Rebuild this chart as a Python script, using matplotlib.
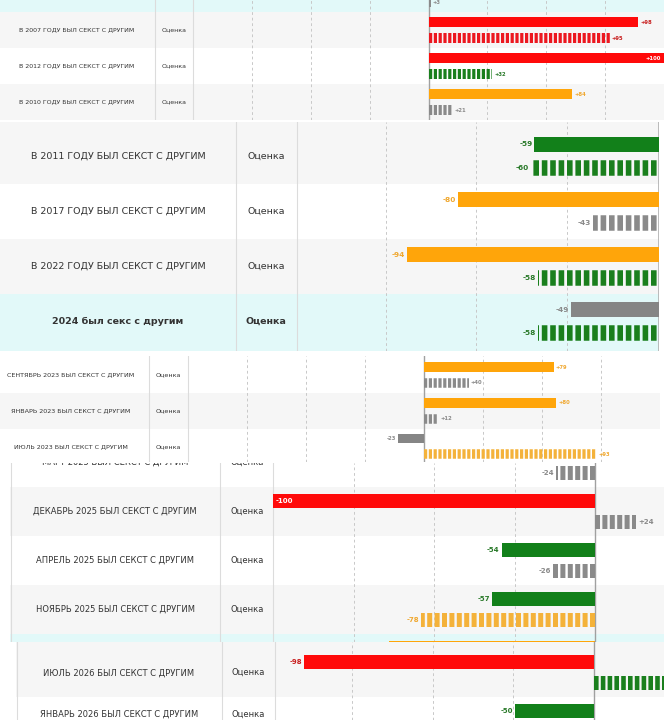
import numpy as np
import matplotlib.pyplot as plt

plt.rcParams['font.family'] = ['DejaVu Sans']
plt.rcParams['lines.scale_dashes'] = False

W, H = 664, 720
PT = 0.72  # points per pixel at dpi 100

RED, GREEN, ORANGE, GRAY = '#ff0a0a', '#12801a', '#ffa50a', '#858585'
DASH_COLORS = {RED: '#ec1820', GREEN: '#1a7f1d', ORANGE: '#f4b23a', GRAY: '#8a8a8a'}
TEXT_COLORS = {RED: '#c82020', GREEN: '#2a7a2a', ORANGE: '#f0a830', GRAY: '#8a8a8a'}

# --- data, one small set of lists per screenshot piece ---
# piece 1 (top)
a_rows = ['', 'В 2007 ГОДУ БЫЛ СЕКСТ С ДРУГИМ', 'В 2012 ГОДУ БЫЛ СЕКСТ С ДРУГИМ',
          'В 2010 ГОДУ БЫЛ СЕКСТ С ДРУГИМ']
a_solid = [np.nan, 89, 100, 61]
a_solid_col = [GRAY, RED, RED, ORANGE]
a_solid_txt = ['', '+98', '+100', '+84']
a_dash = [1, 77, 27, 10]
a_dash_col = [GRAY, RED, GREEN, GRAY]
a_dash_txt = ['+3', '+95', '+32', '+21']

# piece 2
b_rows = ['В 2011 ГОДУ БЫЛ СЕКСТ С ДРУГИМ', 'В 2017 ГОДУ БЫЛ СЕКСТ С ДРУГИМ',
          'В 2022 ГОДУ БЫЛ СЕКСТ С ДРУГИМ', '2024 был секс с другим']
b_solid = [-59, -80, -94, -49]
b_solid_col = [GREEN, ORANGE, ORANGE, GRAY]
b_solid_txt = ['-59', '-80', '-94', '-49']
b_dash = [-60, -43, -58, -58]
b_dash_col = [GREEN, GRAY, GREEN, GREEN]
b_dash_txt = ['-60', '-43', '-58', '-58']

# piece 3
c_rows = ['СЕНТЯБРЬ 2023 БЫЛ СЕКСТ С ДРУГИМ', 'ЯНВАРЬ 2023 БЫЛ СЕКСТ С ДРУГИМ',
          'ИЮЛЬ 2023 БЫЛ СЕКСТ С ДРУГИМ']
c_solid = [55, 56, -11]
c_solid_col = [ORANGE, ORANGE, GRAY]
c_solid_txt = ['+79', '+80', '-23']
c_dash = [19, 6, 73]
c_dash_col = [GRAY, GRAY, ORANGE]
c_dash_txt = ['+40', '+12', '+93']

# piece 4
d_rows = ['МАРТ 2025 БЫЛ СЕКСТ С ДРУГИМ', 'ДЕКАБРЬ 2025 БЫЛ СЕКСТ С ДРУГИМ',
          'АПРЕЛЬ 2025 БЫЛ СЕКСТ С ДРУГИМ', 'НОЯБРЬ 2025 БЫЛ СЕКСТ С ДРУГИМ', '']
d_solid = [np.nan, -100, -29, -32, -64]
d_solid_col = [GRAY, RED, GREEN, GREEN, ORANGE]
d_solid_txt = ['', '-100', '-54', '-57', '']
d_dash = [-12, 12.7, -13, -54, np.nan]
d_dash_col = [GRAY, GRAY, GRAY, ORANGE, GRAY]
d_dash_txt = ['-24', '+24', '-26', '-78', '']

# piece 5 (bottom)
e_rows = ['ИЮЛЬ 2026 БЫЛ СЕКСТ С ДРУГИМ', 'ЯНВАРЬ 2026 БЫЛ СЕКСТ С ДРУГИМ']
e_solid = [-90, -24.5]
e_solid_col = [RED, GREEN]
e_solid_txt = ['-98', '-50']
e_dash = [25, np.nan]
e_dash_col = [GREEN, GREEN]
e_dash_txt = ['', '']

# --- layout of each piece, in pixels of the final picture ---
CYAN, GREY_ROW, WHITE = '#e2f9f9', '#f6f6f6', '#ffffff'
layouts = [
    dict(box=(0, 0, 664, 120), c0=-6, h=36, off=8, bh=10, cols=(155, 193), tx=(77, 174),
         xlim=(-100, 100), grid=[-75, -50, -25, 25, 50, 75], fs=4.5, vfs=3.8,
         dash=(3.2, 1.6), bg=[CYAN, GREY_ROW, WHITE, GREY_ROW], bold=[], edge=False),
    dict(box=(0, 122, 659, 351), c0=156, h=55, off=11.5, bh=15.5, cols=(236, 297), tx=(118, 266),
         xlim=(-124.4, -24.7), grid=[-100, -75, -50], fs=6.8, vfs=5.3,
         dash=(5.6, 2.8), bg=[GREY_ROW, WHITE, GREY_ROW, CYAN], bold=[3], edge=True),
    dict(box=(0, 356, 660, 462), c0=375, h=35.75, off=7.8, bh=9.5, cols=(149, 188), tx=(71, 168),
         xlim=(-100, 100), grid=[-75, -50, -25, 25, 50, 75], fs=4.6, vfs=3.8,
         dash=(3.2, 1.6), bg=[WHITE, GREY_ROW, WHITE], bold=[], edge=False),
    dict(box=(10, 463, 664, 642), c0=462.5, h=49, off=10.5, bh=14, cols=(220, 273), tx=(115, 247),
         xlim=(-100, 21.4), grid=[-75, -50, -25], fs=6.0, vfs=5.0,
         dash=(5.0, 2.4), bg=[WHITE, GREY_ROW, WHITE, GREY_ROW, CYAN], bold=[], edge=False),
    dict(box=(16, 642, 664, 720), c0=672.75, h=48.5, off=10.7, bh=14, cols=(222, 275), tx=(119, 248),
         xlim=(-99, 21.7), grid=[-75, -50, -25], fs=6.0, vfs=5.0,
         dash=(4.6, 2.2), bg=[GREY_ROW, WHITE], bold=[], edge=False),
]

fig = plt.figure(figsize=(W / 100, H / 100), dpi=100)
fig.patch.set_facecolor('white')


def value_label(ax, v, y, t, col, L):
    if not t:
        return
    lo, hi = L['xlim']
    kw = dict(va='center', fontsize=L['vfs'], weight='bold', clip_on=True)
    if v >= hi:
        ax.annotate(t, (hi, y), xytext=(-2, 0), textcoords='offset points', ha='right',
                    color='white', **kw)
    elif v <= lo:
        ax.annotate(t, (lo, y), xytext=(2, 0), textcoords='offset points', ha='left',
                    color='white', **kw)
    elif v >= 0:
        ax.annotate(t, (v, y), xytext=(1.5, 0), textcoords='offset points', ha='left',
                    color=TEXT_COLORS[col], **kw)
    else:
        ax.annotate(t, (v, y), xytext=(-1.5, 0), textcoords='offset points', ha='right',
                    color=TEXT_COLORS[col], **kw)


def draw_piece(L, rows, sv, sc, st, dv, dc, dt):
    x0, y0, x1, y1 = L['box']
    # table part: row bands, column lines and row texts
    ax = fig.add_axes([x0 / W, 1 - y1 / H, (x1 - x0) / W, (y1 - y0) / H])
    ax.set_xlim(x0, x1)
    ax.set_ylim(y1, y0)
    ax.axis('off')
    centers = [L['c0'] + i * L['h'] for i in range(len(rows))]
    n = len(rows)
    for i, (c, bg) in enumerate(zip(centers, L['bg'])):
        top = c - L['h'] / 2 if i > 0 else min(c - L['h'] / 2, y0)
        bot = c + L['h'] / 2 if i < n - 1 else max(c + L['h'] / 2, y1)
        ax.axhspan(top, bot, color=bg, lw=0, zorder=0)
    for cx in L['cols']:
        ax.axvline(cx, color='#dcdcdc', lw=0.8)
    if x0 > 0:
        ax.axvline(x0 + 0.5, color='#dcdcdc', lw=0.8)
    for i, (c, name) in enumerate(zip(centers, rows)):
        if not name:
            continue
        w = 'bold' if i in L['bold'] else 'normal'
        ty = min(c, H - 6)  # keep the last row's text inside the picture
        ax.text(L['tx'][0], ty, name, ha='center', va='center', fontsize=L['fs'],
                color='#333333', weight=w, clip_on=True)
        ax.text(L['tx'][1], ty, 'Оценка', ha='center', va='center', fontsize=L['fs'],
                color='#333333', weight=w, clip_on=True)

    # chart part
    cx0 = L['cols'][1]
    axc = fig.add_axes([cx0 / W, 1 - y1 / H, (x1 - cx0) / W, (y1 - y0) / H])
    axc.set_xlim(L['xlim'])
    axc.set_ylim(y1, y0)
    axc.axis('off')
    axc.patch.set_alpha(0)
    for g in L['grid']:
        axc.axvline(g, color='#c8c8c8', lw=0.7, ls=(0, (2, 2)))
    axc.axvline(0, color='#a0a0a0', lw=1.0)
    if L['edge']:
        axc.axvline(L['xlim'][1], color='#b0b0b0', lw=1.2)

    for c, v, col, t in zip(centers, sv, sc, st):
        if np.isnan(v):
            continue
        y = c - L['off']
        axc.barh(y, v, height=L['bh'], color=col, lw=0, zorder=3)
        value_label(axc, v, y, t, col, L)
    on, off = L['dash']
    for c, v, col, t in zip(centers, dv, dc, dt):
        if np.isnan(v):
            continue
        y = c + L['off']
        axc.hlines(y, 0, v, colors=DASH_COLORS[col], lw=L['bh'] * PT,
                   linestyles=[(0, (on * PT, off * PT))], capstyle='butt', zorder=3)
        value_label(axc, v, y, t, col, L)


draw_piece(layouts[0], a_rows, a_solid, a_solid_col, a_solid_txt, a_dash, a_dash_col, a_dash_txt)
draw_piece(layouts[1], b_rows, b_solid, b_solid_col, b_solid_txt, b_dash, b_dash_col, b_dash_txt)
draw_piece(layouts[2], c_rows, c_solid, c_solid_col, c_solid_txt, c_dash, c_dash_col, c_dash_txt)
draw_piece(layouts[3], d_rows, d_solid, d_solid_col, d_solid_txt, d_dash, d_dash_col, d_dash_txt)
draw_piece(layouts[4], e_rows, e_solid, e_solid_col, e_solid_txt, e_dash, e_dash_col, e_dash_txt)

fig.savefig('out.png', dpi=100, facecolor='white')
